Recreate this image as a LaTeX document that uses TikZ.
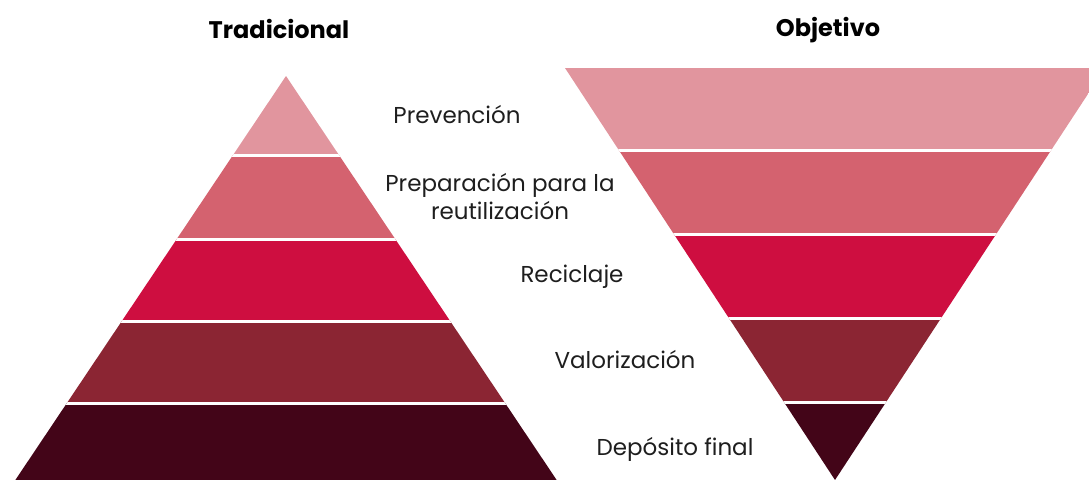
\documentclass[tikz,border=0pt]{standalone}
\usepackage{fontspec}
\setmainfont{Poppins}
\usepackage{tikz}
\usetikzlibrary{positioning}
\definecolor{wasteRoseLight}{RGB}{225,149,158}
\definecolor{wasteRose}{RGB}{212,98,111}
\definecolor{wasteCrimson}{RGB}{206,14,64}
\definecolor{wasteWine}{RGB}{139,37,51}
\definecolor{wasteDark}{RGB}{67,5,24}
\definecolor{wasteText}{RGB}{30,30,30}

\begin{document}
\begin{tikzpicture}[x=1pt,y=-1pt,
    level/.style={text=wasteText, font=\fontsize{23}{28}\selectfont, align=center},
    heading/.style={text=black, font=\fontsize{24}{28}\selectfont\bfseries},
    gap/.style={white, line width=3pt}]
    \useasboundingbox (0,0) rectangle (1089,479);

    % traditional pyramid
    \begin{scope}
        \clip (286,76)--(560,485)--(12,485)--cycle;
        \fill[wasteRoseLight] (0,60) rectangle (600,155);
        \fill[wasteRose] (0,155) rectangle (600,239);
        \fill[wasteCrimson] (0,239) rectangle (600,321);
        \fill[wasteWine] (0,321) rectangle (600,403);
        \fill[wasteDark] (0,403) rectangle (600,490);
        \draw[gap] (0,155)--(600,155);
        \draw[gap] (0,239)--(600,239);
        \draw[gap] (0,321)--(600,321);
        \draw[gap] (0,403)--(600,403);
    \end{scope}

    % target pyramid (inverted)
    \begin{scope}
        \clip (565,68)--(1105,68)--(835,480)--cycle;
        \fill[wasteRoseLight] (540,60) rectangle (1110,150);
        \fill[wasteRose] (540,150) rectangle (1110,234);
        \fill[wasteCrimson] (540,234) rectangle (1110,318);
        \fill[wasteWine] (540,318) rectangle (1110,402);
        \fill[wasteDark] (540,402) rectangle (1110,490);
        \draw[gap] (540,150)--(1110,150);
        \draw[gap] (540,234)--(1110,234);
        \draw[gap] (540,318)--(1110,318);
        \draw[gap] (540,402)--(1110,402);
    \end{scope}

    % titles
    \node[heading] (tradicional) at (279,29) {Tradicional};
    \node[heading] (objetivo) at (828,30) {Objetivo};

    % levels
    \node[level] (prevencion) at (457,115) {Prevención};
    \node[level] (preparacion) at (500,197) {Preparación para la\\reutilización};
    \node[level] (reciclaje) at (572,277) {Reciclaje};
    \node[level] (valorizacion) at (625,360) {Valorización};
    \node[level] (deposito) at (675,449) {Depósito final};
\end{tikzpicture}
\end{document}
